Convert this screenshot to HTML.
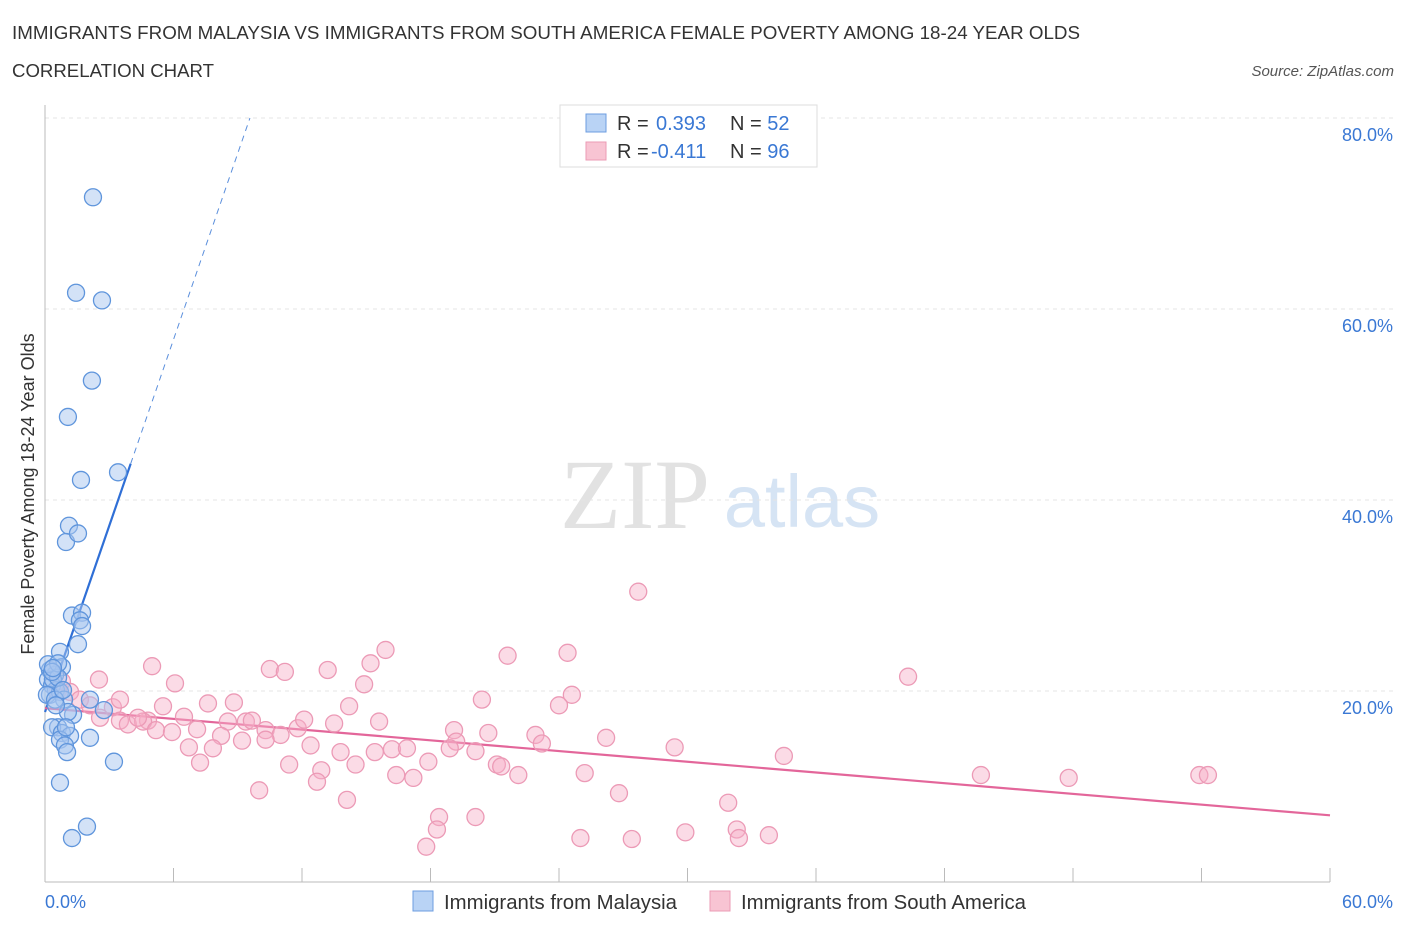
<!DOCTYPE html>
<html><head><meta charset="utf-8"><style>
body{margin:0;background:#fff;font-family:"Liberation Sans",sans-serif;}
svg{display:block}
</style></head><body>
<svg id="chart" width="1406" height="930" xmlns="http://www.w3.org/2000/svg">
<text x="12" y="39" font-size="18" fill="#333" textLength="1068" lengthAdjust="spacingAndGlyphs">IMMIGRANTS FROM MALAYSIA VS IMMIGRANTS FROM SOUTH AMERICA FEMALE POVERTY AMONG 18-24 YEAR OLDS</text>
<text x="12" y="77" font-size="18" fill="#333" textLength="202" lengthAdjust="spacingAndGlyphs">CORRELATION CHART</text>
<text x="1394" y="76" font-size="15" fill="#555" font-style="italic" text-anchor="end">Source: ZipAtlas.com</text>
<g>
<text x="635" y="528" font-size="100" fill="#e2e2e2" font-family="Liberation Serif,serif" text-anchor="middle">ZIP</text>
<text x="802" y="527" font-size="74" fill="#d6e4f4" text-anchor="middle">atlas</text>
</g>
<g id="grid"></g>
<g id="axes"></g>
<text transform="translate(34,494) rotate(-90)" font-size="18" fill="#333" text-anchor="middle">Female Poverty Among 18-24 Year Olds</text>
<g id="lines"></g>
<g id="pts"></g>
<g>
<rect x="560" y="105" width="257" height="62" fill="#fff" stroke="#ddd"/>
<rect x="586" y="114" width="20" height="18" fill="#b9d3f5" stroke="#6d9ee0"/>
<rect x="586" y="142" width="20" height="18" fill="#f8c4d3" stroke="#eb9bb5"/>
<text x="617" y="130" font-size="20" fill="#333">R = </text>
<text x="656" y="130" font-size="20" fill="#3a78d4">0.393</text>
<text x="730" y="130" font-size="20" fill="#333">N = <tspan fill="#3a78d4">52</tspan></text>
<text x="617" y="158" font-size="20" fill="#333">R = </text>
<text x="651" y="158" font-size="20" fill="#3a78d4">-0.411</text>
<text x="730" y="158" font-size="20" fill="#333">N = <tspan fill="#3a78d4">96</tspan></text>
</g>
<g>
<rect x="413" y="891" width="20" height="20" fill="#b9d3f5" stroke="#6d9ee0"/>
<text x="444" y="909" font-size="20" fill="#333" textLength="233" lengthAdjust="spacingAndGlyphs">Immigrants from Malaysia</text>
<rect x="710" y="891" width="20" height="20" fill="#f8c4d3" stroke="#eb9bb5"/>
<text x="741" y="909" font-size="20" fill="#333" textLength="285" lengthAdjust="spacingAndGlyphs">Immigrants from South America</text>
</g>
</svg>
<script>
const yTicks=[20,40,60,80];
const xTickLabels=["0.0%","60.0%"];
const blueX=[2.24,1.45,2.66,2.19,1.07,1.68,3.41,1.12,0.98,1.54,1.26,1.73,1.63,1.73,1.54,0.70,0.79,0.23,0.47,0.14,0.33,0.51,0.23,0.70,0.89,2.10,2.75,1.31,1.07,0.61,0.33,0.79,1.17,0.70,2.10,0.93,1.03,3.22,0.70,1.26,1.96,0.37,0.61,0.09,0.47,0.14,0.61,0.33,0.84,0.51,0.98,0.37];
const blueY=[71.7,61.7,60.9,52.5,48.7,42.1,42.9,37.3,35.6,36.5,27.9,28.2,27.4,26.8,24.9,24.1,22.5,22.2,21.7,21.2,20.6,20.1,19.6,19.9,19.1,19.1,18.0,17.5,17.8,16.2,16.2,15.6,15.3,14.9,15.1,14.3,13.6,12.6,10.4,4.6,5.8,21.2,21.4,19.6,19.1,22.8,22.9,22.0,20.1,18.5,16.2,22.4];
const pinkX=[27.7,15.9,5.0,15.2,21.6,24.4,13.2,10.5,11.2,40.3,6.07,14.9,24.6,2.52,0.79,0.61,1.17,1.63,2.10,20.4,7.61,8.82,5.51,3.17,24.0,6.49,4.81,3.50,3.87,4.58,4.34,5.18,5.93,7.10,8.54,9.38,9.66,10.3,11.8,12.1,13.5,15.6,19.1,20.7,22.9,19.2,8.22,9.20,11.0,6.72,7.84,12.4,13.8,16.2,16.9,17.9,18.9,20.1,23.2,26.2,29.4,34.5,7.24,11.4,12.9,16.4,17.2,21.1,21.3,22.1,25.2,26.8,10.0,12.7,14.1,31.9,18.4,20.1,18.3,17.8,25.0,27.4,29.9,32.3,32.4,33.8,43.7,47.8,53.9,54.3,14.5,10.3,15.4,14.2,3.50,2.57];
const pinkY=[30.4,24.3,22.6,22.9,23.7,24.0,22.2,22.3,22.0,21.5,20.8,20.7,19.6,21.2,21.0,20.1,19.9,19.1,18.5,19.1,18.7,18.8,18.4,18.3,18.5,17.3,16.9,16.9,16.5,16.8,17.2,15.9,15.7,16.0,16.8,16.8,16.9,15.9,16.1,17.0,16.6,16.8,15.9,15.6,15.4,14.7,15.3,14.8,15.4,14.1,14.0,14.3,13.6,13.9,14.0,12.6,14.0,13.7,14.5,15.1,14.1,13.2,12.5,12.3,11.7,11.2,10.9,12.3,12.1,11.2,11.4,9.3,9.6,10.5,8.6,8.3,6.8,6.8,5.5,3.7,4.6,4.5,5.2,5.5,4.6,4.9,11.2,10.9,11.2,11.2,12.3,14.9,13.6,18.4,19.1,17.2];
const blueTrend=[17.8,6.5];
const pinkTrend=[18.2,-0.187];
const NS="http://www.w3.org/2000/svg";
const xs=v=>45+v*(1285/60);
const ys=v=>882-v*9.55;
function mk(tag,attrs,parent){const e=document.createElementNS(NS,tag);for(const k in attrs)e.setAttribute(k,attrs[k]);parent.appendChild(e);return e;}
const grid=document.getElementById('grid'),axes=document.getElementById('axes');
yTicks.forEach(t=>{
 const l=mk('line',{x1:45,x2:1394,y1:ys(t),y2:ys(t),stroke:'#e4e4e4','stroke-dasharray':'4,4'},grid);
 
 
 const tx=mk('text',{x:1393,y:ys(t)+23,'font-size':18,fill:'#3a78d4','text-anchor':'end'},axes);
 tx.textContent=t.toFixed(1)+'%';
 
 
});
mk('line',{x1:45,x2:45,y1:105,y2:882,stroke:'#bbb'},axes);
mk('line',{x1:45,x2:1330,y1:882,y2:882,stroke:'#bbb'},axes);
for(let i=1;i<=10;i++){mk('line',{x1:xs(i*6),x2:xs(i*6),y1:868,y2:882,stroke:'#bbb'},axes);}
const xl0=mk('text',{x:45,y:908,'font-size':18,fill:'#3a78d4'},axes);xl0.textContent=xTickLabels[0];


const xl1=mk('text',{x:1393,y:908,'font-size':18,fill:'#3a78d4','text-anchor':'end'},axes);xl1.textContent=xTickLabels[1];


const pts=document.getElementById('pts');
pinkX.forEach((x,i)=>{const c=mk('circle',{cx:xs(x),cy:ys(pinkY[i]),r:8.5,fill:'rgba(246,176,199,0.45)',stroke:'#ec9ab6','stroke-width':1.3},pts);
 
 });
blueX.forEach((x,i)=>{const c=mk('circle',{cx:xs(x),cy:ys(blueY[i]),r:8.5,fill:'rgba(168,198,240,0.5)',stroke:'#5f95dc','stroke-width':1.3},pts);
 
 });
const lines=document.getElementById('lines');
const bEnd=4.0,bDash=(80-blueTrend[0])/blueTrend[1];
const b1=mk('line',{x1:xs(0),y1:ys(blueTrend[0]),x2:xs(bEnd),y2:ys(blueTrend[0]+blueTrend[1]*bEnd),stroke:'#2f6fd6','stroke-width':2.2},lines);


const b2=mk('line',{x1:xs(bEnd),y1:ys(blueTrend[0]+blueTrend[1]*bEnd),x2:xs(bDash),y2:ys(80),stroke:'#5b8fdc','stroke-width':1,'stroke-dasharray':'6,5'},lines);


const p1=mk('line',{x1:xs(0),y1:ys(pinkTrend[0]),x2:xs(60),y2:ys(pinkTrend[0]+pinkTrend[1]*60),stroke:'#e3669a','stroke-width':2.2},lines);


</script>
</body></html>
